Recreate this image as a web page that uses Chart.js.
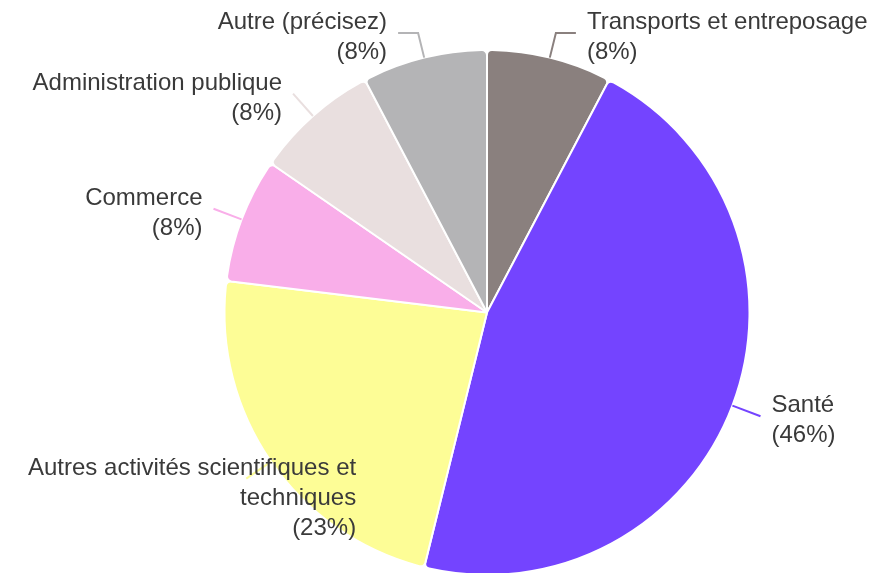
<!DOCTYPE html>
<html>
<head>
<meta charset="utf-8">
<script src="https://cdn.jsdelivr.net/npm/chart.js@4"></script>
<style>
  html, body { margin: 0; padding: 0; background: #ffffff; overflow: hidden; }
  #wrap { width: 887px; height: 576px; position: relative; }
</style>
</head>
<body>
<div id="wrap"><canvas id="c"></canvas></div>
<script>
const categories = [
  'Transports et entreposage',
  'Santé',
  'Autres activités scientifiques et techniques',
  'Commerce',
  'Administration publique',
  'Autre (précisez)'
];
const counts = [1, 6, 3, 1, 1, 1];
const sliceColors = ['#8a807e', '#7444ff', '#fdfd96', '#f9aee9', '#e9dfdf', '#b4b4b6'];

const FONT = '24px "Liberation Sans", Arial, sans-serif';
const LINE_H = 30;
const TEXT_COLOR = '#3a3a3a';

function wrapText(ctx, text, maxW) {
  const words = text.split(' ');
  const lines = [];
  let cur = '';
  for (const w of words) {
    const test = cur ? cur + ' ' + w : w;
    if (ctx.measureText(test).width > maxW && cur) {
      lines.push(cur);
      cur = w;
    } else {
      cur = test;
    }
  }
  if (cur) lines.push(cur);
  return lines;
}

const outsideLabels = {
  id: 'outsideLabels',
  afterDatasetsDraw(chart) {
    const ctx = chart.ctx;
    const meta = chart.getDatasetMeta(0);
    const data = chart.data.datasets[0].data;
    const total = data.reduce((a, b) => a + b, 0);
    const W = chart.width;
    ctx.save();
    ctx.font = FONT;
    meta.data.forEach((arc, i) => {
      const p = arc.getProps(['x', 'y', 'startAngle', 'endAngle', 'outerRadius'], true);
      const mid = (p.startAngle + p.endAngle) / 2;
      const c = Math.cos(mid), s = Math.sin(mid);
      const r = p.outerRadius;
      const px = p.x + r * c, py = p.y + r * s;
      let ex = p.x + (r + 30) * c, ey = p.y + (r + 30) * s;
      const rightSide = c >= 0;
      const dir = rightSide ? 1 : -1;
      const pct = Math.round(data[i] / total * 100);
      const lines = wrapText(ctx, chart.data.labels[i], 340);
      lines.push('(' + pct + '%)');
      const blockW = Math.max(...lines.map(l => ctx.measureText(l).width));
      let firstY = ey - 13;
      const pts = [[px, py]];
      let tx;
      if (firstY < 20) {
        firstY = 20;
        const ny = firstY + 13;
        const t = (ny - p.y) / s;
        ex = p.x + t * c;
        ey = ny;
        pts.push([ex, ey]);
        pts.push([ex + dir * 20, ey]);
        tx = ex + dir * 31;
      } else {
        pts.push([ex, ey]);
        tx = ex + dir * 11;
      }
      if (!rightSide && tx - blockW < 28) tx = 28 + blockW;
      if (rightSide && tx + blockW > W - 10) tx = W - 10 - blockW;
      ctx.strokeStyle = sliceColors[i];
      ctx.lineWidth = 2;
      ctx.beginPath();
      ctx.moveTo(pts[0][0], pts[0][1]);
      for (let k = 1; k < pts.length; k++) ctx.lineTo(pts[k][0], pts[k][1]);
      ctx.stroke();
      ctx.fillStyle = TEXT_COLOR;
      ctx.textAlign = rightSide ? 'left' : 'right';
      ctx.textBaseline = 'middle';
      lines.forEach((l, k) => ctx.fillText(l, tx, firstY + 2.5 + k * LINE_H));
    });
    ctx.restore();
  }
};

new Chart(document.getElementById('c'), {
  type: 'pie',
  data: {
    labels: categories,
    datasets: [{
      data: counts,
      backgroundColor: sliceColors,
      borderColor: '#ffffff',
      borderWidth: 2,
      borderRadius: 5
    }]
  },
  options: {
    responsive: true,
    maintainAspectRatio: false,
    animation: false,
    layout: { padding: { top: 49, bottom: 0, left: 223, right: 136 } },
    plugins: {
      legend: { display: false },
      tooltip: { enabled: false }
    }
  },
  plugins: [outsideLabels]
});
</script>
</body>
</html>
